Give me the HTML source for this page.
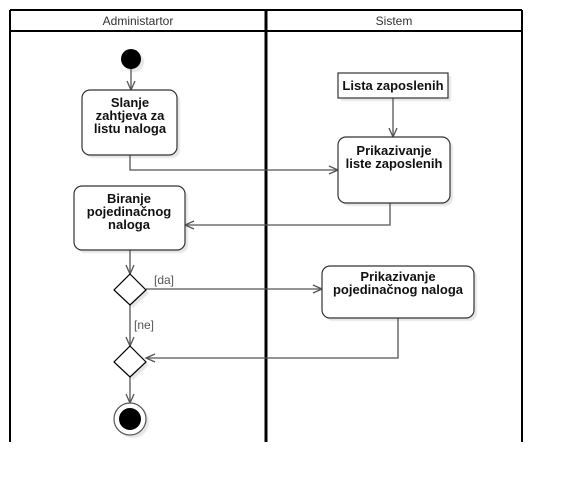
<!DOCTYPE html>
<html><head><meta charset="utf-8"><style>
html,body{margin:0;padding:0;background:#fff;}
svg{display:block;}
text{font-family:"Liberation Sans",sans-serif;}
</style></head><body>
<svg width="562" height="482" viewBox="0 0 562 482" xmlns="http://www.w3.org/2000/svg">
<defs>
<filter id="sh" x="-20%" y="-20%" width="150%" height="150%"><feOffset dx="3" dy="3"/><feGaussianBlur stdDeviation="0.5"/></filter>
</defs>
<line x1="10" y1="10" x2="522" y2="10" stroke="#000" stroke-width="2"/>
<line x1="10" y1="31" x2="522" y2="31" stroke="#000" stroke-width="2"/>
<line x1="10" y1="10" x2="10" y2="442" stroke="#000" stroke-width="2"/>
<line x1="522" y1="10" x2="522" y2="442" stroke="#000" stroke-width="2"/>
<line x1="266" y1="10" x2="266" y2="442" stroke="#000" stroke-width="3"/>
<text x="138" y="25" font-size="12" fill="#333" text-anchor="middle">Administartor</text>
<text x="394" y="25" font-size="12" fill="#333" text-anchor="middle">Sistem</text>

<g fill="#e6e6e6" filter="url(#sh)">
<circle cx="131" cy="59" r="10"/>
<rect x="82" y="90" width="95" height="65" rx="8"/>
<rect x="74" y="186" width="111" height="64" rx="8"/>
<rect x="338" y="73" width="110" height="25"/>
<rect x="338" y="137" width="112" height="66" rx="8"/>
<rect x="322" y="266" width="152" height="52" rx="8"/>
<polygon points="130,274 146,290 130,305 114,290"/>
<polygon points="130,346 146,362 130,377 114,362"/>
<circle cx="130" cy="419" r="16"/>
</g>

<g stroke="#555" stroke-width="1.3" fill="none">
<line x1="131" y1="69" x2="131" y2="90"/><polyline points="127,81 131,90 135,81"/>
<polyline points="130,155 130,170 338,170"/><polyline points="329,166 338,170 329,174"/>
<line x1="393" y1="98" x2="393" y2="137"/><polyline points="389,128 393,137 397,128"/>
<polyline points="390,203 390,225 185,225"/><polyline points="194,221 185,225 194,229"/>
<line x1="130" y1="250" x2="130" y2="274"/><polyline points="126,265 130,274 134,265"/>
<line x1="146" y1="289" x2="322" y2="289"/><polyline points="313,285 322,289 313,293"/>
<line x1="130" y1="305" x2="130" y2="346"/><polyline points="126,337 130,346 134,337"/>
<polyline points="398,318 398,358 146,358"/><polyline points="155,354 146,358 155,362"/>
<line x1="130" y1="377" x2="130" y2="403"/><polyline points="126,394 130,403 134,394"/>
</g>

<circle cx="131" cy="59" r="10" fill="#000"/>
<g fill="#fff" stroke="#333" stroke-width="1.2">
<rect x="82" y="90" width="95" height="65" rx="8"/>
<rect x="74" y="186" width="111" height="64" rx="8"/>
<rect x="338" y="73" width="110" height="25"/>
<rect x="338" y="137" width="112" height="66" rx="8"/>
<rect x="322" y="266" width="152" height="52" rx="8"/>
<polygon points="130,274 146,290 130,305 114,290" stroke="#000"/>
<polygon points="130,346 146,362 130,377 114,362" stroke="#000"/>
<circle cx="130" cy="419" r="16" stroke="#555"/>
</g>
<circle cx="130" cy="419" r="11" fill="#000"/>

<g font-size="13" font-weight="bold" fill="#111" text-anchor="middle">
<text x="130" y="107">Slanje</text>
<text x="130" y="120">zahtjeva za</text>
<text x="130" y="133">listu naloga</text>
<text x="129" y="203">Biranje</text>
<text x="129" y="216">pojedinačnog</text>
<text x="129" y="229">naloga</text>
<text x="393" y="90">Lista zaposlenih</text>
<text x="394" y="155">Prikazivanje</text>
<text x="394" y="168">liste zaposlenih</text>
<text x="398" y="281">Prikazivanje</text>
<text x="398" y="294">pojedinačnog naloga</text>
</g>
<g font-size="12" fill="#555">
<text x="154" y="284">[da]</text>
<text x="134" y="329">[ne]</text>
</g>
</svg>
</body></html>
